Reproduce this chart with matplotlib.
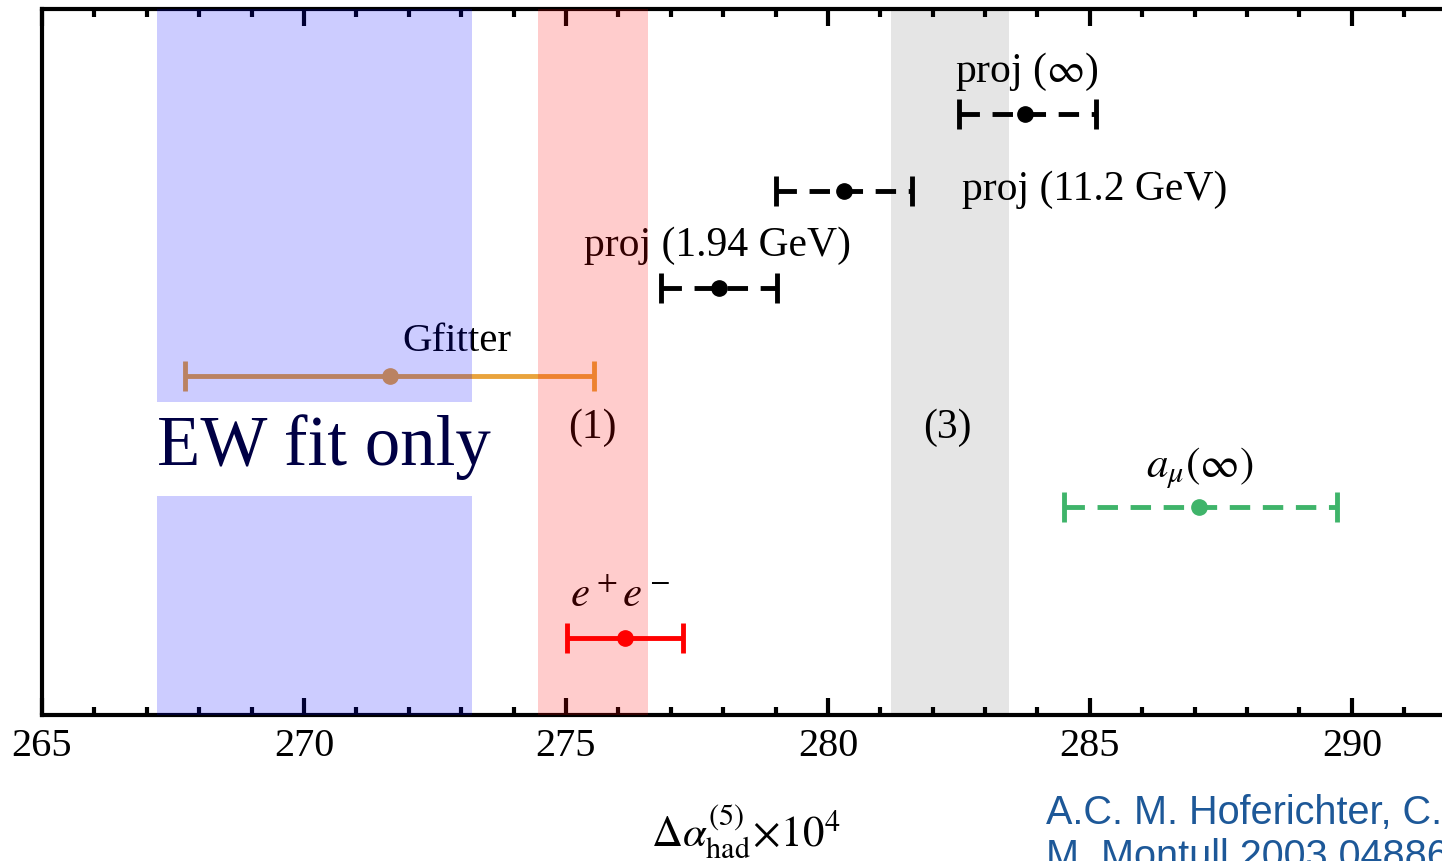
import matplotlib
matplotlib.use("Agg")
import matplotlib.pyplot as plt

plt.rcParams['font.family'] = ['Liberation Serif', 'DejaVu Serif']
plt.rcParams['mathtext.fontset'] = 'stix'

# bands (x ranges)
band_ew = (267.2, 273.2)
band_1 = (274.47, 276.57)
band_3 = (281.2, 283.45)

# measurements: centre, lower end, upper end, row
names = ['proj_inf', 'proj_11', 'proj_194', 'gfitter', 'amu', 'ee']
centre = [283.76, 280.30, 277.92, 271.64, 287.08, 276.13]
lower = [282.50, 279.00, 276.82, 267.73, 284.50, 275.02]
upper = [285.11, 281.61, 279.02, 275.53, 289.71, 277.23]
rows = [8.51, 7.42, 6.05, 4.80, 2.95, 1.09]
colors = ['black', 'black', 'black', '#e9a33c', '#3fb46a', '#ff0000']
dashed = [True, True, True, False, True, False]

xticks = [265, 270, 275, 280, 285, 290]

fig = plt.figure(figsize=(14.42, 8.62), dpi=100)
ax = fig.add_axes([42 / 1442, 146 / 862, 1467 / 1442, 706 / 862])
ax.set_xlim(265, 293)
ax.set_ylim(0, 10)

for i in range(len(names)):
    eb = ax.errorbar(centre[i], rows[i],
                     xerr=[[centre[i] - lower[i]], [upper[i] - centre[i]]],
                     fmt='o', color=colors[i], ms=11, elinewidth=3.5,
                     capsize=10.5, capthick=3.5, zorder=4)
    if dashed[i]:
        eb[2][0].set_linestyle((0, (4.2, 2.6)))

# shaded bands on top (semi-transparent)
ax.axvspan(*band_ew, ymin=0, ymax=0.31, color='blue', alpha=0.2, lw=0, zorder=10)
ax.axvspan(*band_ew, ymin=0.443, ymax=1, color='blue', alpha=0.2, lw=0, zorder=10)
ax.axvspan(*band_1, color='red', alpha=0.2, lw=0, zorder=10)
ax.axvspan(*band_3, color='black', alpha=0.1, lw=0, zorder=10)

fs = 30
ax.text(283.8, 9.12, r'proj ($\infty$)', fontsize=fs, ha='center', va='center')
ax.text(282.56, 7.45, 'proj (11.2 GeV)', fontsize=fs, ha='left', va='center')
ax.text(277.9, 6.66, 'proj (1.94 GeV)', fontsize=fs, ha='center', va='center')
ax.text(272.92, 5.30, 'Gfitter', fontsize=29.5, ha='center', va='center')
ax.text(275.5, 4.08, '(1)', fontsize=fs, ha='center', va='center')
ax.text(282.29, 4.08, '(3)', fontsize=fs, ha='center', va='center')
ax.text(267.2, 3.81, 'EW fit only', fontsize=51, color='#000044', ha='left', va='center')
ax.text(287.1, 3.51, r'$a_\mu(\infty)$', fontsize=31, ha='center', va='center')
ax.text(276.03, 1.69, r'$e^+e^-$', fontsize=31, ha='center', va='center')

ax.set_xticks(xticks)
ax.set_xticks([v for v in range(265, 294) if v % 5 != 0], minor=True)
ax.set_yticks([])
ax.tick_params(axis='x', which='both', direction='in', top=True, bottom=True,
               width=3, labelsize=29, pad=9)
ax.tick_params(axis='x', which='major', length=12)
ax.tick_params(axis='x', which='minor', length=6)
for s in ax.spines.values():
    s.set_linewidth(3)

fig.text(0.517, 0.035, r'$\Delta\alpha^{(5)}_{\rm had}\!\times\!10^4$', fontsize=31,
         ha='center', va='center')

fig.text(1046 / 1442, 1 - 813 / 862, 'A.C. M. Hoferichter, C.A. Manzari,',
         fontsize=28.5, color='#1d5898', family='Liberation Sans', ha='left', va='center')
fig.text(1046 / 1442, 1 - 857 / 862, 'M. Montull 2003.04886',
         fontsize=28.5, color='#1d5898', family='Liberation Sans', ha='left', va='center')

fig.savefig('out.png', dpi=100)
